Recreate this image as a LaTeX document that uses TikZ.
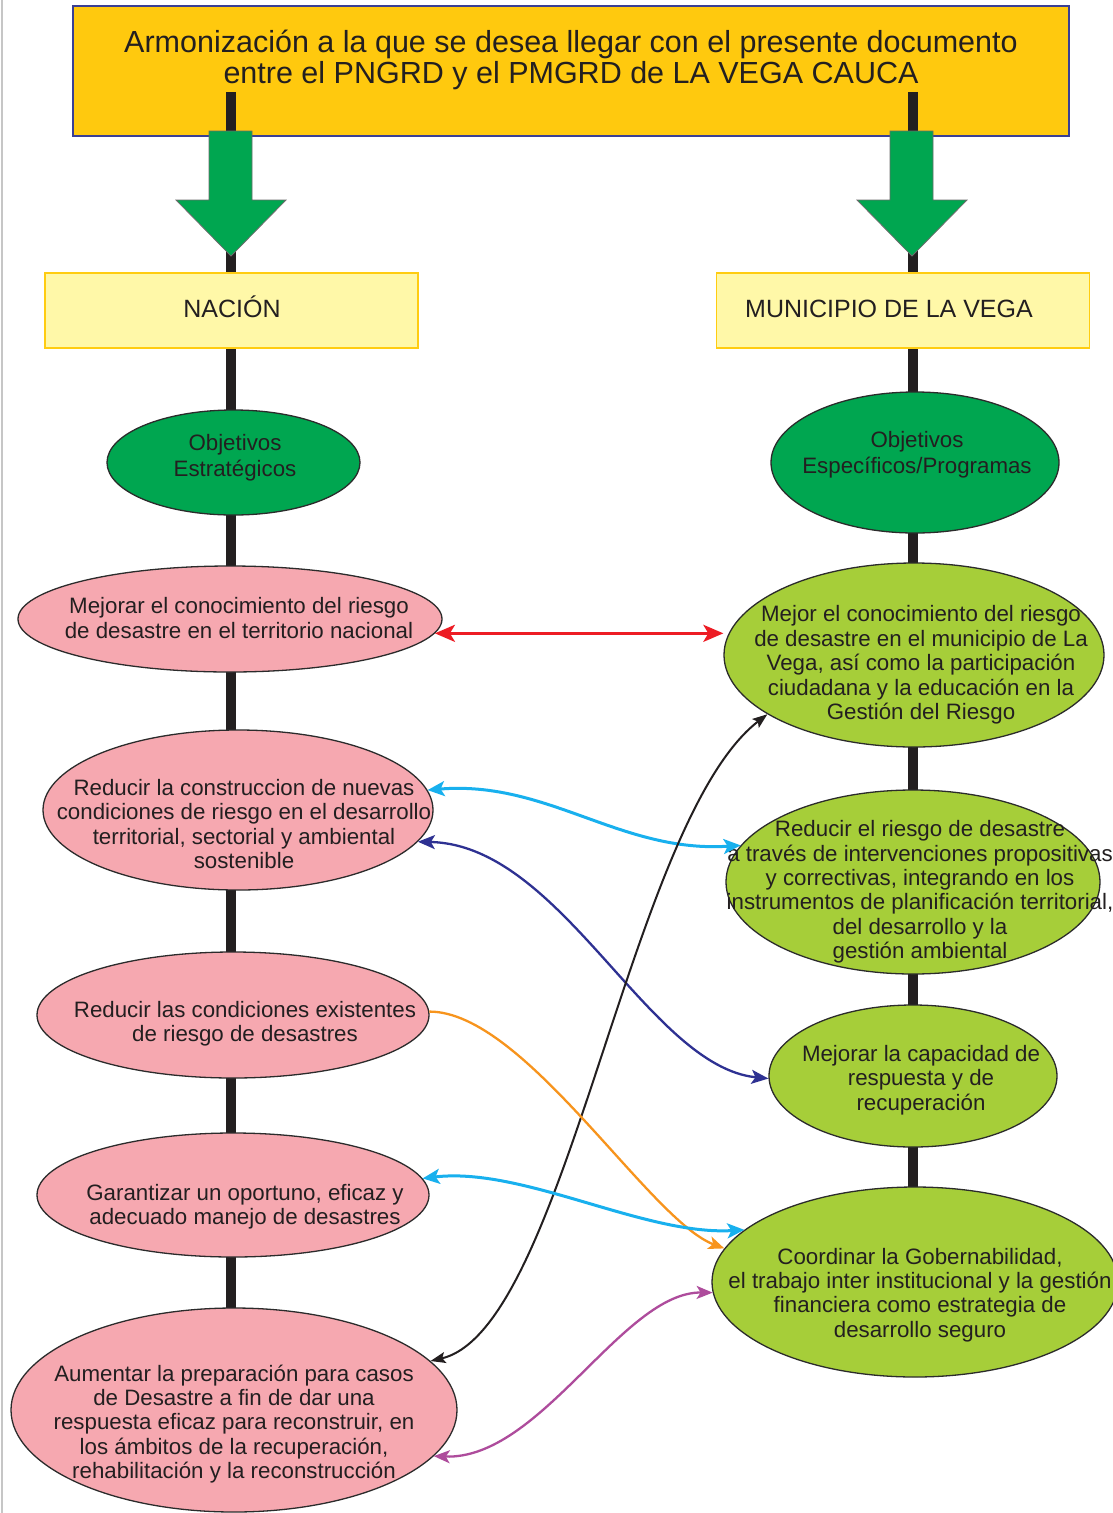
\documentclass[tikz,border=0pt]{standalone}
\usepackage{fontspec}
\setmainfont{Liberation Sans}
\usetikzlibrary{shapes.geometric,arrows.meta,backgrounds,calc}
\definecolor{goldc}{HTML}{FFC90E}
\definecolor{navyb}{HTML}{3A3F94}
\definecolor{ylight}{HTML}{FFF8A8}
\definecolor{yedge}{HTML}{FFCC11}
\definecolor{dgreen}{HTML}{00A650}
\definecolor{lgreen}{HTML}{A6CE39}
\definecolor{pinkc}{HTML}{F6A8B0}
\definecolor{txtc}{HTML}{231F20}
\definecolor{edgec}{HTML}{2B2B2B}
\definecolor{redc}{HTML}{ED1C24}
\definecolor{cyanc}{HTML}{18B0EE}
\definecolor{navyc}{HTML}{2E3192}
\definecolor{orangec}{HTML}{F7941D}
\definecolor{magc}{HTML}{AE4C9C}
\begin{document}
\begin{tikzpicture}[x=1pt,y=-1pt,
  txt/.style={font=\fontsize{22.3}{24.4}\selectfont, text=txtc, align=center, inner sep=0pt},
  ell/.style={ellipse, draw=edgec, line width=1.3pt, inner sep=0pt},
  ellsz/.style 2 args={minimum width=#1, minimum height=#2},
  pinkell/.style={ell, fill=pinkc},
  lgell/.style={ell, fill=lgreen},
  dgell/.style={ell, fill=dgreen},
  ybox/.style={draw=yedge, fill=ylight, line width=1.8pt, minimum width=373pt, minimum height=75pt, inner sep=0pt},
  stem/.style={draw=txtc, line width=10pt},
  garrow/.style={fill=dgreen, draw=edgec!70, line width=0.8pt},
  link/.style={line width=2.3pt},
]
\useasboundingbox (0,0) rectangle (1112,1513);
\begin{pgfonlayer}{background}
\fill[white] (0,0) rectangle (1112,1513);
\end{pgfonlayer}
\draw[gray!45, line width=1.2pt] (2,0) -- (2,1513);

% top banner
\node[draw=navyb, fill=goldc, line width=1.8pt, minimum width=996pt, minimum height=130pt, inner sep=0pt] (top) at (571,71) {};
\node[font=\fontsize{30.5}{31.5}\selectfont, text=txtc, align=center, inner sep=0pt] (title) at (571,60)
  {Armonización a la que se desea llegar con el presente documento\\entre el PNGRD y el PMGRD de LA VEGA CAUCA};

% boxes
\node[ybox] (nac) at (231.5,310.5) {};
\node[font=\fontsize{25}{28}\selectfont, text=txtc, inner sep=0pt] (nactxt) at (232,307) {NACIÓN};
\node[ybox] (mun) at (903,310.5) {};
\node[font=\fontsize{25}{28}\selectfont, text=txtc, inner sep=0pt] (muntxt) at (889,309) {MUNICIPIO DE LA VEGA};

\coordinate (sL) at (230.5,92);
\coordinate (sR) at (913,92);
\draw[stem] (sL) -- (sL |- nac.north);
\draw[stem] (sR) -- (sR |- mun.north);

% green arrows
\draw[garrow] (209,131) -- (209,200) -- (176,200) -- (231,256) -- (286,200) -- (252,200) -- (252,131) -- cycle;
\draw[garrow] (890,131) -- (890,200) -- (857,200) -- (912,256) -- (967,200) -- (933,200) -- (933,131) -- cycle;

% left column
\node[dgell, ellsz={253pt}{105pt}] (OE) at (233.5,462.5) {};
\node[txt, font=\fontsize{22.3}{26}\selectfont] (OEt) at (235,458) {Objetivos\\Estratégicos};
\node[pinkell, ellsz={424pt}{106pt}] (L2) at (230,619) {};
\node[txt] (L2t) at (239,618) {Mejorar el conocimiento del riesgo\\de desastre en el territorio nacional};
\node[pinkell, ellsz={390pt}{160pt}] (L3) at (238,810) {};
\node[txt] (L3t) at (244,824) {Reducir la construccion de nuevas\\condiciones de riesgo en el desarrollo\\territorial, sectorial y ambiental\\sostenible};
\node[pinkell, ellsz={392pt}{126pt}] (L4) at (233,1015) {};
\node[txt] (L4t) at (245,1024) {Reducir las condiciones existentes\\de riesgo de desastres};
\node[pinkell, ellsz={392pt}{124pt}] (L5) at (233,1195) {};
\node[txt] (L5t) at (245,1207) {Garantizar un oportuno, eficaz y\\adecuado manejo de desastres};
\node[pinkell, ellsz={446pt}{204pt}] (L6) at (234,1410) {};
\node[txt] (L6t) at (234,1424) {Aumentar la preparación para casos\\de Desastre a fin de dar una\\respuesta eficaz para reconstruir, en\\los ámbitos de la recuperación,\\rehabilitación y la reconstrucción};

% right column
\node[dgell, ellsz={288pt}{141pt}] (OP) at (915,462.5) {};
\node[txt, font=\fontsize{22.3}{26}\selectfont] (OPt) at (917,455) {Objetivos\\Específicos/Programas};
\node[lgell, ellsz={380pt}{184pt}] (R2) at (914,655) {};
\node[txt] (R2t) at (921,665) {Mejor el conocimiento del riesgo\\de desastre en el municipio de La\\Vega, así como la participación\\ciudadana y la educación en la\\Gestión del Riesgo};
\node[lgell, ellsz={374pt}{184pt}] (R3) at (913,882) {};
\node[txt] (R3t) at (920,892) {Reducir el riesgo de desastre\\a través de intervenciones propositivas\\y correctivas, integrando en los\\instrumentos de planificación territorial,\\del desarrollo y la\\gestión ambiental};
\node[lgell, ellsz={288pt}{142pt}] (R4) at (913,1076) {};
\node[txt] (R4t) at (921,1080) {Mejorar la capacidad de\\respuesta y de\\recuperación};
\node[lgell, ellsz={406pt}{190pt}] (R5) at (915,1282) {};
\node[txt] (R5t) at (920,1295) {Coordinar la Gobernabilidad,\\el trabajo inter institucional y la gestión\\financiera como estrategia de\\desarrollo seguro};

% column lines
\begin{pgfonlayer}{background}
\draw[stem] (sL |- nac.south) -- (sL |- L6.center);
\draw[stem] (sR |- mun.south) -- (sR |- R5.center);
\end{pgfonlayer}

% connectors
\draw[redc, line width=3pt, arrows={Stealth[length=20pt,width=17pt,inset=5pt]-Stealth[length=20pt,width=17pt,inset=5pt]}]
  (L2.-4) -- (L2.-4 -| R2.west);
\draw[cyanc, line width=3pt, arrows={Stealth[length=17pt,width=15pt,inset=4pt]-Stealth[length=17pt,width=15pt,inset=4pt]}]
  (L3.6) .. controls +(120,-10) and +(-120,8) .. (R3.168);
\draw[link, navyc, arrows={Stealth[length=17pt,width=14pt,inset=4pt]-Stealth[length=17pt,width=14pt,inset=4pt]}]
  (L3.-10) .. controls +(144,3) and +(-120,-12) .. (R4.181);
\draw[txtc, line width=2pt, arrows={Stealth[length=15pt,width=11pt,inset=3pt]-Stealth[length=15pt,width=11pt,inset=3pt]}]
  (L6.14) .. controls +(136,-32) and +(-139,107) .. (R2.202);
\draw[link, orangec, arrows={-Stealth[length=16pt,width=13pt,inset=4pt]}]
  (L4.1) .. controls +(95,0) and +(-75,-28) .. (R5.170);
\draw[cyanc, line width=3pt, arrows={Stealth[length=17pt,width=15pt,inset=4pt]-Stealth[length=17pt,width=15pt,inset=4pt]}]
  (L5.5) .. controls +(100,-12) and +(-100,6) .. (R5.163);
\draw[link, magc, arrows={Stealth[length=16pt,width=13pt,inset=4pt]-Stealth[length=16pt,width=13pt,inset=4pt]}]
  (L6.-13) .. controls +(107,4) and +(-90,-1) .. (R5.183);
\end{tikzpicture}
\end{document}
